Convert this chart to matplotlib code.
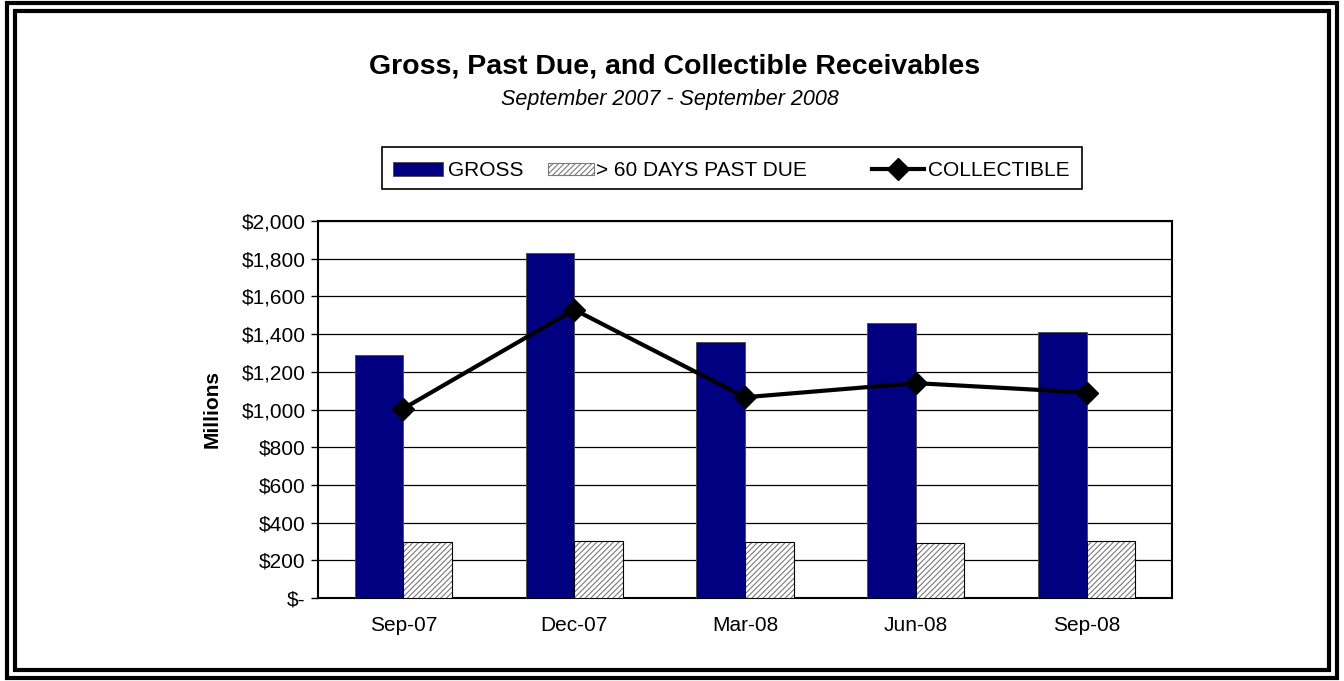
import matplotlib
matplotlib.use("Agg")
import matplotlib.pyplot as plt
import numpy as np
from matplotlib.patches import Rectangle
from matplotlib.lines import Line2D

plt.rcParams['font.family'] = ['Liberation Sans', 'DejaVu Sans']
plt.rcParams['hatch.linewidth'] = 0.8

# data
quarters = ["Sep-07", "Dec-07", "Mar-08", "Jun-08", "Sep-08"]
gross = [1290, 1830, 1360, 1460, 1410]
past_due = [295, 300, 298, 290, 300]
collectible = [1005, 1530, 1065, 1140, 1090]
yticks = [0, 200, 400, 600, 800, 1000, 1200, 1400, 1600, 1800, 2000]
ytick_labels = ["$-", "$200", "$400", "$600", "$800", "$1,000", "$1,200",
                "$1,400", "$1,600", "$1,800", "$2,000"]
series_names = ["GROSS", "> 60 DAYS PAST DUE", "COLLECTIBLE"]

NAVY = '#000080'
W, H = 1344, 681
fig = plt.figure(figsize=(W / 100, H / 100), dpi=100)


def px(x, y):
    # pixel position (from top-left) -> figure fraction
    return x / W, 1 - y / H


# double frame around the whole chart
fig.patches.append(Rectangle((7 / W, 3 / H), (W - 14) / W, (H - 6) / H,
                             transform=fig.transFigure, fill=False,
                             edgecolor='black', linewidth=3))
fig.patches.append(Rectangle((15 / W, 11 / H), (W - 30) / W, (H - 22) / H,
                             transform=fig.transFigure, fill=False,
                             edgecolor='black', linewidth=3))

ax = fig.add_axes([318 / W, 1 - 598 / H, (1172 - 318) / W, (598 - 221) / H])

x = np.arange(len(quarters))
bw = 0.285
ax.bar(x - bw / 2, gross, bw, color=NAVY, edgecolor='#505050',
       linewidth=0.7, zorder=3)
# hatch drawn in grey, outline in black on top
ax.bar(x + bw / 2, past_due, bw, color='white', edgecolor='#7a7a7a',
       hatch='//////', linewidth=0, zorder=3)
ax.bar(x + bw / 2, past_due, bw, fill=False, edgecolor='black',
       linewidth=0.8, zorder=3)
ax.plot(x, collectible, color='black', linewidth=3, marker='D',
        markersize=11, zorder=4)

ax.set_xlim(-0.5, len(quarters) - 0.5)
ax.set_ylim(0, 2000)
ax.set_yticks(yticks)
ax.set_yticklabels(ytick_labels, fontsize=15)
ax.set_xticks(x)
ax.set_xticklabels(quarters, fontsize=15)
ax.tick_params(axis='x', length=0, pad=13)
ax.tick_params(axis='y', length=5, width=1, direction='out', pad=4)
ax.grid(axis='y', color='black', linewidth=0.9, zorder=0)
for s in ax.spines.values():
    s.set_linewidth(1.5)
ax.set_ylabel("Millions", fontsize=15, fontweight='bold', labelpad=14)

fig.text(*px(675, 67), "Gross, Past Due, and Collectible Receivables",
         ha='center', va='center', fontsize=20.5, fontweight='bold')
fig.text(*px(670, 99), "September 2007 - September 2008",
         ha='center', va='center', fontsize=15.5, style='italic')

# legend box laid out like the original
lx0, lx1, ly0, ly1 = 382, 1082, 147, 189
fig.patches.append(Rectangle(px(lx0, ly1), (lx1 - lx0) / W, (ly1 - ly0) / H,
                             transform=fig.transFigure, facecolor='white',
                             edgecolor='black', linewidth=1.2))
ly = 169
fig.patches.append(Rectangle(px(393, 176), 50 / W, 14 / H,
                             transform=fig.transFigure, facecolor=NAVY,
                             edgecolor='#505050', linewidth=0.7))
fig.patches.append(Rectangle(px(548, 175), 46 / W, 12 / H,
                             transform=fig.transFigure, facecolor='white',
                             edgecolor='#7a7a7a', hatch='//////', linewidth=0.8))
fig.lines.append(Line2D([872 / W, 924 / W], [1 - ly / H, 1 - ly / H],
                        transform=fig.transFigure, color='black', linewidth=3))
fig.lines.append(Line2D([898 / W], [1 - ly / H], transform=fig.transFigure,
                        color='black', marker='D', markersize=11))
for xt, name in zip([448, 596, 928], series_names):
    fig.text(*px(xt, ly), name, ha='left', va='center_baseline', fontsize=15)

fig.savefig("out.png", dpi=100)
